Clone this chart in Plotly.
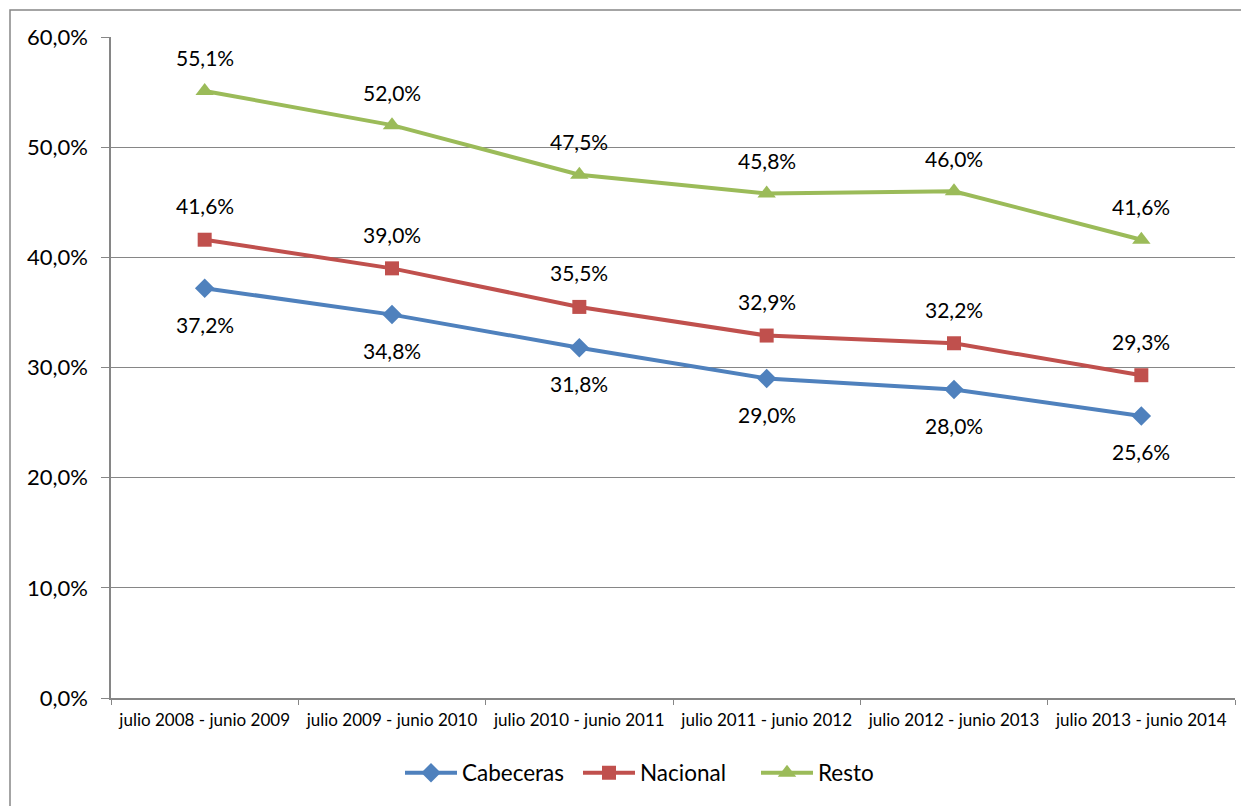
import plotly.graph_objects as go

categories = ["julio 2008 - junio 2009", "julio 2009 - junio 2010", "julio 2010 - junio 2011",
              "julio 2011 - junio 2012", "julio 2012 - junio 2013", "julio 2013 - junio 2014"]
cabeceras = [37.2, 34.8, 31.8, 29.0, 28.0, 25.6]
nacional = [41.6, 39.0, 35.5, 32.9, 32.2, 29.3]
resto = [55.1, 52.0, 47.5, 45.8, 46.0, 41.6]
y_ticks = [0, 10, 20, 30, 40, 50, 60]


def pct(v):
    return f"{v:.1f}%".replace(".", ",")


FONT = "Lato"
W, H = 1241, 798  # page body adds 8px offset
L, R, T, B = 103, 14, 29, 108
PW, PH = W - L - R, H - T - B

fig = go.Figure()
series = [
    ("Cabeceras", cabeceras, "#4F81BD", "diamond", 15, -36),
    ("Nacional", nacional, "#C0504D", "square", 14, 34),
    ("Resto", resto, "#9BBB59", "triangle-up", 16, 33),
]
for name, vals, col, sym, sz, shift in series:
    fig.add_trace(go.Scatter(
        x=categories, y=vals, name=name, mode="lines+markers",
        line=dict(color=col, width=4),
        marker=dict(symbol=sym, size=sz, color=col),
        cliponaxis=False,
    ))
    for c, v in zip(categories, vals):
        fig.add_annotation(x=c, y=v, text=pct(v), showarrow=False, yshift=shift,
                           font=dict(family=FONT, size=21, color="#000000"))

fig.update_layout(
    width=W, height=H,
    margin=dict(l=L, r=R, t=T, b=B),
    paper_bgcolor="white", plot_bgcolor="white",
    font=dict(family=FONT, color="#000000"),
    showlegend=True,
    legend=dict(orientation="h", x=(392 - L) / PW, xanchor="left", y=-75 / PH, yanchor="middle",
                font=dict(family=FONT, size=22.5), itemwidth=52, tracegroupgap=0,
                entrywidth=111),
)
fig.update_xaxes(
    type="category", range=[-0.5, 5.5], tickson="boundaries", ticks="outside",
    ticklen=5, tickcolor="#868686", showline=True, linecolor="#868686", linewidth=1.5,
    showgrid=False, tickfont=dict(family=FONT, size=17, color="#000000"),
    ticklabelstandoff=6,
)
fig.update_yaxes(
    range=[0, 60], tickvals=y_ticks, ticktext=[pct(v) for v in y_ticks],
    ticks="outside", ticklen=8, tickcolor="#868686", showline=True, linecolor="#868686",
    linewidth=1.5, showgrid=True, gridcolor="#868686", gridwidth=1.2, zeroline=False,
    tickfont=dict(family=FONT, size=22, color="#000000"), ticklabelstandoff=9,
)
fig.add_shape(type="rect", xref="paper", yref="paper",
              x0=(2 - L) / PW, x1=(W + 20 - L) / PW,
              y0=(T + PH - (H + 20)) / PH, y1=(T + PH - 2) / PH,
              line=dict(color="#868686", width=1.5), layer="below")
fig.write_html("out.html")
